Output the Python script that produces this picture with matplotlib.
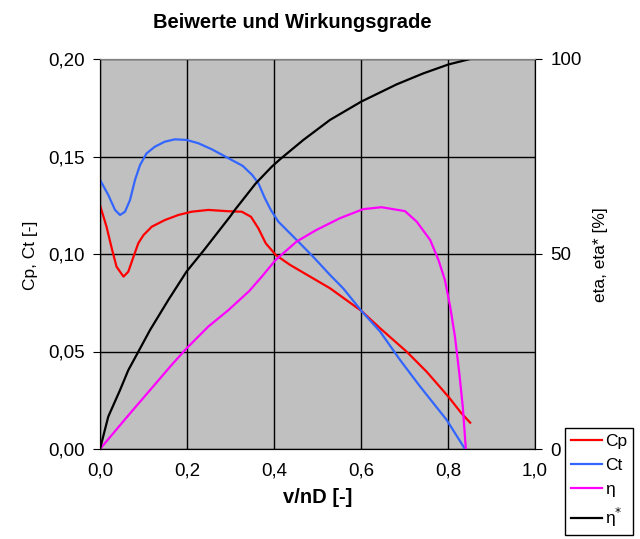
import numpy as np
import matplotlib.pyplot as plt

plt.rcParams['font.family'] = ['Liberation Sans', 'DejaVu Sans']

# Cp, Ct over advance ratio v/nD
x_cp = [0.0, 0.015, 0.027, 0.038, 0.054, 0.065, 0.077, 0.088, 0.10, 0.119, 0.149,
        0.18, 0.211, 0.249, 0.297, 0.326, 0.347, 0.364, 0.381, 0.391, 0.404, 0.437,
        0.483, 0.529, 0.601, 0.644, 0.705, 0.751, 0.801, 0.831, 0.851]
cp = [0.125, 0.114, 0.1029, 0.0935, 0.0884, 0.0909, 0.0986, 0.1055, 0.1097, 0.114,
      0.1174, 0.120, 0.1217, 0.1226, 0.1219, 0.1217, 0.1191, 0.1132, 0.1055, 0.1029,
      0.0995, 0.0944, 0.0884, 0.0824, 0.0708, 0.0619, 0.0499, 0.0396, 0.0268,
      0.0183, 0.0135]

x_ct = [0.0, 0.019, 0.0345, 0.046, 0.0575, 0.069, 0.0805, 0.092, 0.107, 0.126, 0.149,
        0.172, 0.199, 0.226, 0.257, 0.297, 0.328, 0.350, 0.364, 0.379, 0.393, 0.41,
        0.452, 0.49, 0.529, 0.559, 0.601, 0.644, 0.69, 0.736, 0.797, 0.839]
ct = [0.138, 0.1303, 0.1226, 0.120, 0.1217, 0.1277, 0.138, 0.1456, 0.1516, 0.155,
      0.1576, 0.1588, 0.1585, 0.1568, 0.1537, 0.1489, 0.1452, 0.1405, 0.1363, 0.1286,
      0.1225, 0.1166, 0.1072, 0.0986, 0.0892, 0.0824, 0.0708, 0.0602, 0.0456, 0.032,
      0.0149, 0.0]

# efficiencies in %
x_eta = [0.0, 0.065, 0.115, 0.165, 0.199, 0.249, 0.295, 0.343, 0.372, 0.404, 0.452,
         0.498, 0.552, 0.605, 0.647, 0.701, 0.728, 0.759, 0.778, 0.793, 0.805, 0.816,
         0.826, 0.834, 0.841]
eta = [0.0, 8.6, 15.1, 21.6, 25.8, 31.4, 35.6, 40.5, 44.2, 48.5, 53.2, 56.2, 59.2,
       61.5, 62.0, 61.0, 58.3, 53.6, 48.5, 43.3, 36.5, 28.8, 19.4, 10.8, 0.0]

x_etas = [0.0, 0.019, 0.046, 0.065, 0.084, 0.115, 0.157, 0.199, 0.239, 0.299, 0.31,
          0.358, 0.395, 0.414, 0.467, 0.529, 0.601, 0.682, 0.743, 0.801, 0.851]
eta_s = [0.0, 8.3, 15.1, 20.2, 24.1, 30.5, 38.2, 45.5, 51.0, 59.6, 61.3, 68.1, 72.4,
         74.3, 79.2, 84.4, 89.1, 93.5, 96.3, 98.6, 100.0]

x_ticks = [0.0, 0.2, 0.4, 0.6, 0.8, 1.0]
y_ticks = [0.0, 0.05, 0.10, 0.15, 0.20]
y2_ticks = [0, 50, 100]

fig = plt.figure(figsize=(6.4, 5.39), dpi=100)
ax = fig.add_axes([100/640, 1 - 449/539, 435/640, 390/539])
ax2 = ax.twinx()

ax.set_facecolor('#C0C0C0')
ax.set_xlim(0, 1.0)
ax.set_ylim(0, 0.20)
ax2.set_ylim(0, 100)
ax.set_xticks(x_ticks)
ax.set_yticks(y_ticks)
ax2.set_yticks(y2_ticks)
ax.set_xticklabels([('%.1f' % v).replace('.', ',') for v in x_ticks])
ax.set_yticklabels([('%.2f' % v).replace('.', ',') for v in y_ticks])
ax.grid(True, color='black', linewidth=1)
ax.set_axisbelow(True)

ax.tick_params(axis='y', direction='out', length=5, labelsize=13.5, pad=6)
ax.tick_params(axis='x', length=0, labelsize=13.5, pad=10)
ax2.tick_params(axis='y', direction='out', length=5, labelsize=13.5, pad=6)

for a in (ax, ax2):
    a.spines['top'].set_color('#808080')
    for s in ('left', 'right', 'bottom'):
        a.spines[s].set_color('black')

l1, = ax.plot(x_cp, cp, color='#FF0000', linewidth=1.6, label='Cp')
l2, = ax.plot(x_ct, ct, color='#3366FF', linewidth=1.6, label='Ct')
l3, = ax2.plot(x_eta, eta, color='#FF00FF', linewidth=1.6, label='η')
l4, = ax2.plot(x_etas, eta_s, color='black', linewidth=1.6, label='η$^{*}$')

ax.set_xlabel('v/nD [-]', fontsize=14.5, fontweight='bold', labelpad=6)
fig.text(30/640, 1 - 255/539, 'Cp, Ct [-]', rotation=90, fontsize=12.5,
         ha='center', va='center')
fig.text(601/640, 1 - 255/539, 'eta, eta* [%]', rotation=90, fontsize=12.5,
         ha='center', va='center')
fig.text(292/640, 1 - 22/539, 'Beiwerte und Wirkungsgrade', fontsize=14.5,
         fontweight='bold', ha='center', va='center')

leg = fig.legend(handles=[l1, l2, l3, l4], loc='lower left',
                 bbox_to_anchor=(565/640, 4/539), fontsize=12.5, frameon=True,
                 fancybox=False, edgecolor='black', framealpha=1,
                 handlelength=1.8, handletextpad=0.15, borderpad=0.35,
                 labelspacing=0.5, borderaxespad=0)
leg.get_frame().set_linewidth(1)

fig.savefig('out.png', dpi=100)
